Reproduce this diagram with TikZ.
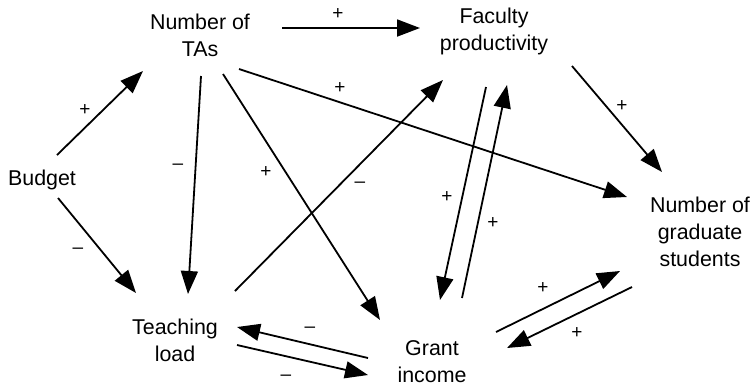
\documentclass[tikz,border=0pt]{standalone}
\usepackage{fontspec}
\setmainfont{Liberation Sans}
\usetikzlibrary{arrows.meta,calc}

\begin{document}
\begin{tikzpicture}[x=0.5pt,y=-0.5pt,
  var/.style={align=center,font=\fontsize{10.7}{13.5}\selectfont,inner sep=0pt},
  sgn/.style={font=\fontsize{9.5}{10}\selectfont,inner sep=0pt},
  lnk/.style={line width=0.9pt,-{Triangle[length=11.5pt,width=8.5pt]}}]
\useasboundingbox (0,0) rectangle (753,387);
% The six variables of the loop diagram.
\node[var] (tas) at (200,35) {Number of\\TAs};
\node[var] (fac) at (494,31) {Faculty\\productivity};
\node[var] (bud) at (42,180) {Budget};
\node[var] (tl) at (175,340) {Teaching\\load};
\node[var] (gi) at (432,362) {Grant\\income};
\node[var] (gs) at (700,232) {Number of\\graduate\\students};
% Causal links.
\draw[lnk] ($(bud)+(15,-25)$) -- ($(tas)+(-57,36)$);
\draw[lnk] ($(bud)+(16,18)$) -- ($(tl)+(-39,-47)$);
\draw[lnk] ($(tas)+(1,41)$) -- ($(tl)+(13,-46)$);
\draw[lnk] ($(tas)+(23,39)$) -- ($(gi)+(-52,-42)$);
\draw[lnk] ($(tas)+(39,34)$) -- ($(gs)+(-73,-35)$);
\draw[lnk] ($(tas)+(82,-7)$) -- ($(fac)+(-74,-3)$);
\draw[lnk] ($(tl)+(60,-49)$) -- ($(fac)+(-51,49)$);
\draw[lnk] ($(fac)+(-8,56)$) -- ($(gi)+(8,-62)$);
\draw[lnk] ($(gi)+(30,-64)$) -- ($(fac)+(13,54)$);
\draw[lnk] ($(fac)+(78,35)$) -- ($(gs)+(-38,-60)$);
\draw[lnk] ($(gi)+(64,-30)$) -- ($(gs)+(-80,39)$);
\draw[lnk] ($(gs)+(-68,55)$) -- ($(gi)+(75,-14)$);
\draw[lnk] ($(gi)+(-64,-4)$) -- ($(tl)+(62,-13)$);
\draw[lnk] ($(tl)+(62,5)$) -- ($(gi)+(-64,13)$);
% Signs of the links.
\node[sgn] (s1) at (85,110) {+};
\node[sgn] (s2) at (78,251) {\textendash};
\node[sgn] (s3) at (178,167) {\textendash};
\node[sgn] (s4) at (266,172) {+};
\node[sgn] (s5) at (340,88) {+};
\node[sgn] (s6) at (338,14) {+};
\node[sgn] (s7) at (360,185) {\textendash};
\node[sgn] (s8) at (447,197) {+};
\node[sgn] (s9) at (493,223) {+};
\node[sgn] (s10) at (622,106) {+};
\node[sgn] (s11) at (543,288) {+};
\node[sgn] (s12) at (577,333) {+};
\node[sgn] (s13) at (310,330) {\textendash};
\node[sgn] (s14) at (286,378) {\textendash};
\end{tikzpicture}
\end{document}
